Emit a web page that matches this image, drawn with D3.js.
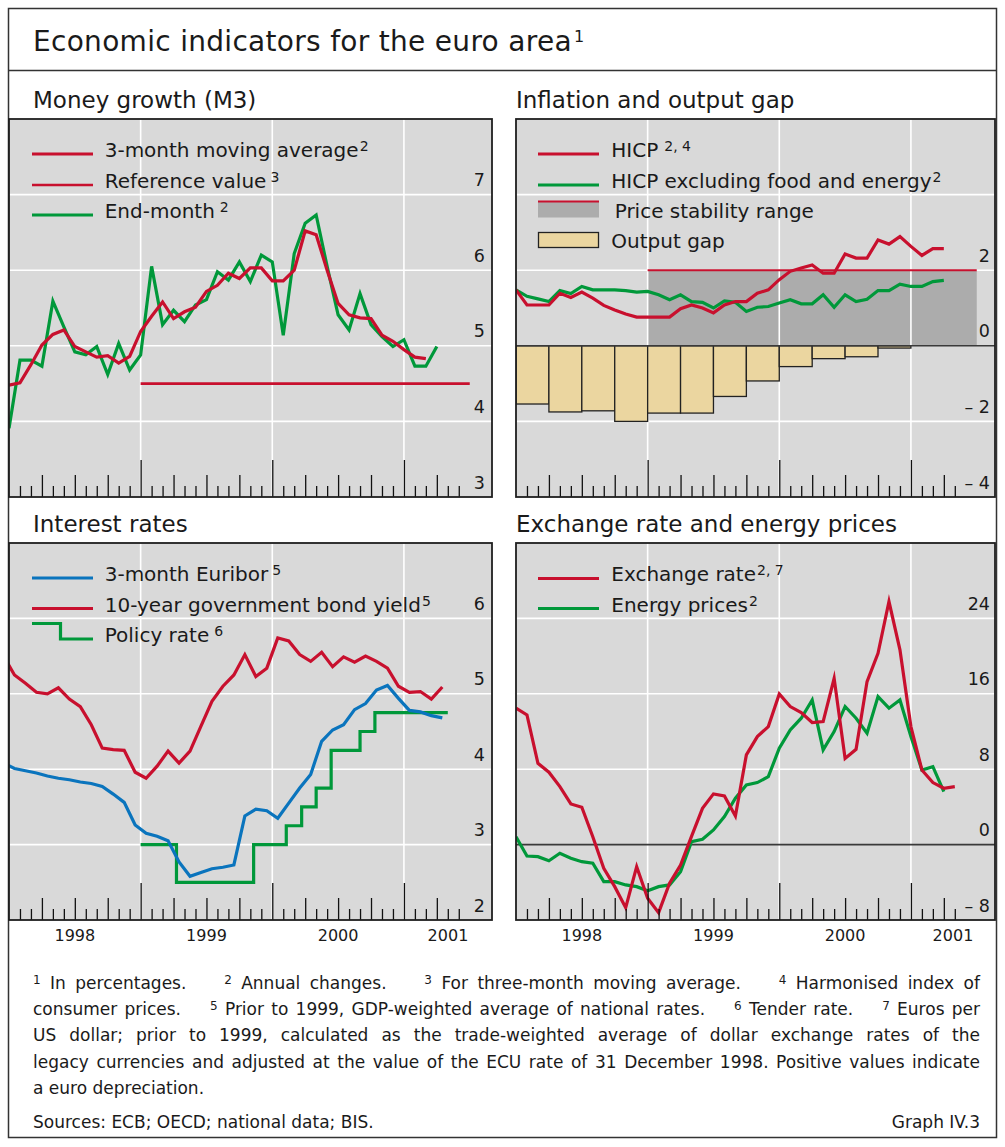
<!DOCTYPE html>
<html><head><meta charset="utf-8">
<script src="https://cdn.jsdelivr.net/npm/d3@7"></script>
<style>
html,body{margin:0;padding:0;background:#fff;}
svg text{font-family:"DejaVu Sans",sans-serif;fill:#1a1a1a;white-space:pre;}
</style></head>
<body>
<svg id="chart" width="1005" height="1147" xmlns="http://www.w3.org/2000/svg"></svg>
<script>
// ---------------- DATA (month index 0 = January 1998) ----------------
// Money growth (M3), annual changes, monthly from Jan 1998
const m3MovingAverage = [4.48,4.51,4.75,5.01,5.15,5.21,4.99,4.92,4.85,4.87,4.77,4.86,
  5.19,5.39,5.58,5.36,5.45,5.51,5.72,5.80,5.96,5.89,6.03,6.03,
  5.86,5.86,6.00,6.52,6.47,6.00,5.56,5.41,5.37,5.36,5.14,5.06,
  4.95,4.85,4.83];
const m3EndMonth = [3.91,4.81,4.81,4.73,5.59,5.25,4.92,4.88,4.99,4.62,5.03,4.68,
  4.88,6.05,5.28,5.47,5.32,5.54,5.61,5.98,5.87,6.11,5.85,6.20,
  6.11,5.14,6.22,6.62,6.73,6.05,5.41,5.21,5.69,5.28,5.12,4.99,
  5.08,4.73,4.73,4.99];
const m3ReferenceValue = 4.5;
const m3ReferencePeriod = [12, 42];

// Inflation and output gap
const hicp = [1.48,1.08,1.08,1.08,1.39,1.28,1.42,1.26,1.07,0.95,0.84,0.76,
  0.76,0.76,0.76,0.98,1.08,1.00,0.87,1.08,1.17,1.17,1.39,1.48,
  1.75,1.97,2.06,2.14,1.92,1.92,2.43,2.32,2.32,2.80,2.69,2.89,
  2.63,2.39,2.57,2.57];
const hicpCore = [1.48,1.31,1.24,1.17,1.46,1.38,1.57,1.48,1.48,1.48,1.46,1.42,
  1.44,1.35,1.22,1.35,1.17,1.15,1.00,1.19,1.15,0.91,1.02,1.04,
  1.13,1.22,1.11,1.11,1.35,1.02,1.35,1.17,1.23,1.46,1.46,1.63,
  1.57,1.57,1.70,1.73];
const priceStabilityRange = [0, 2];
const priceStabilityPeriod = [12, 42];
const outputGapQuarterly = [-1.54,-1.75,-1.72,-2.00,-1.78,-1.78,-1.34,-0.93,-0.55,-0.34,-0.29,-0.06];

// Interest rates, monthly from Dec 1997 (plotted mid-month)
const euribor3m = [4.08,4.01,3.98,3.95,3.91,3.88,3.86,3.83,3.81,3.77,3.67,3.56,3.26,
  3.15,3.11,3.05,2.77,2.58,2.63,2.68,2.70,2.73,3.38,3.47,3.45,
  3.35,3.55,3.75,3.93,4.37,4.52,4.59,4.79,4.87,5.05,5.11,4.94,
  4.78,4.76,4.71,4.68];
const bondYield10y = [5.50,5.25,5.14,5.02,5.00,5.08,4.93,4.83,4.59,4.28,4.26,4.25,3.96,
  3.88,4.04,4.24,4.08,4.24,4.57,4.90,5.10,5.25,5.52,5.23,5.34,
  5.74,5.70,5.52,5.43,5.55,5.36,5.49,5.42,5.50,5.43,5.34,5.10,
  5.02,5.03,4.93,5.09];
const policyRateDates = ["1999-01-01","1999-04-09","1999-11-10","2000-02-09","2000-03-22",
  "2000-05-01","2000-06-12","2000-09-01","2000-10-12","2001-05-01"];
const policyRateValues = [3.00,2.50,3.00,3.25,3.50,3.75,4.25,4.50,4.75,4.75];

// Exchange rate and energy prices, monthly from Jan 1998
const exchangeRate = [14.47,13.76,8.63,7.68,6.15,4.31,3.96,0.84,-2.51,-4.46,-6.69,-2.34,
  -5.70,-7.22,-4.10,-2.16,0.88,3.85,5.38,5.16,3.04,9.52,11.46,12.52,
  15.99,14.65,14.00,12.95,13.05,17.65,9.15,10.11,17.30,20.30,25.79,20.66,
  12.52,7.92,6.58,5.98,6.15];
const energyPrices = [0.84,-1.21,-1.28,-1.71,-0.92,-1.45,-1.81,-1.98,-3.93,-3.93,-4.28,-4.46,
  -4.89,-4.46,-4.28,-2.87,0.31,0.56,1.55,2.97,4.92,6.33,6.58,7.21,
  10.23,12.17,13.41,15.35,10.05,11.99,14.65,13.41,11.82,15.71,14.47,15.35,
  11.46,7.92,8.27,5.62];

const yearLabels = ["1998","1999","2000","2001"];

// ---------------- STYLE / LAYOUT ----------------
const RED = "#c8102e", GREEN = "#00983a", BLUE = "#0a74bd";
const BG = "#d9d9d9", BAND = "#acacac", GAPFILL = "#ebd6a0";
const MW = 10.97;           // pixels per month
const LW = 3.2;             // series line width
const svg = d3.select("#chart");

function monthIndex(s) {
  const [Y, M, D] = s.split("-").map(Number);
  const dim = new Date(Y, M, 0).getDate();
  return (Y - 1998) * 12 + (M - 1) + (D - 1) / dim;
}
function fmt(v) { return v < 0 ? "\u2013 " + Math.abs(v) : String(v); }

// outer frame and title
svg.append("rect").attr("x", 8.5).attr("y", 8.5).attr("width", 988).attr("height", 1129)
  .attr("fill", "none").attr("stroke", "#333").attr("stroke-width", 1.5);
svg.append("line").attr("x1", 8).attr("x2", 997).attr("y1", 70.5).attr("y2", 70.5)
  .attr("stroke", "#333").attr("stroke-width", 1.5);
const title = svg.append("text").attr("x", 33).attr("y", 51).attr("font-size", 28)
  .attr("letter-spacing", 0.3);
title.append("tspan").text("Economic indicators for the euro area");
title.append("tspan").attr("dx", 2).attr("dy", -9).attr("font-size", 16).text("1");

const panelTitles = [
  {t: "Money growth (M3)", x: 33, y: 107.5},
  {t: "Inflation and output gap", x: 516, y: 107.5},
  {t: "Interest rates", x: 33, y: 531.5},
  {t: "Exchange rate and energy prices", x: 516, y: 531.5}
];
svg.selectAll("text.ptitle").data(panelTitles).join("text").attr("class", "ptitle")
  .attr("x", d => d.x).attr("y", d => d.y).attr("font-size", 23).text(d => d.t);

let clipN = 0;
function makePanel(box, yDomain, gridVals, labelVals, lastTick, labelInset, zeroLine) {
  const x = d3.scaleLinear().domain([0, 12]).range([box.x, box.x + 12 * MW]);
  const y = d3.scaleLinear().domain(yDomain).range([box.y + box.h, box.y]);
  const g = svg.append("g");
  const cid = "clip" + (clipN++);
  g.append("clipPath").attr("id", cid).append("rect")
    .attr("x", box.x).attr("y", box.y).attr("width", box.w).attr("height", box.h);
  g.append("rect").attr("x", box.x).attr("y", box.y).attr("width", box.w).attr("height", box.h).attr("fill", BG);
  const L = {};
  ["fill", "grid", "bars", "zero", "lines", "legend", "labels", "ticks"].forEach(n => {
    L[n] = g.append("g");
  });
  ["fill", "bars", "lines"].forEach(n => L[n].attr("clip-path", `url(#${cid})`));
  // gridlines
  L.grid.selectAll("line.h").data(gridVals).join("line").attr("class", "h")
    .attr("x1", box.x).attr("x2", box.x + box.w).attr("y1", d => y(d)).attr("y2", d => y(d))
    .attr("stroke", "#fff").attr("stroke-width", 1.6);
  L.grid.selectAll("line.v").data([12, 24, 36]).join("line").attr("class", "v")
    .attr("x1", d => x(d)).attr("x2", d => x(d)).attr("y1", box.y).attr("y2", box.y + box.h)
    .attr("stroke", "#fff").attr("stroke-width", 1.6);
  if (zeroLine) {
    L.zero.append("line").attr("x1", box.x).attr("x2", box.x + box.w)
      .attr("y1", y(0)).attr("y2", y(0)).attr("stroke", "#3a3a3a").attr("stroke-width", 1.6);
  }
  // value labels
  L.labels.selectAll("text").data(labelVals).join("text")
    .attr("x", box.x + box.w - labelInset).attr("y", d => y(d) - 8.5)
    .attr("text-anchor", "end").attr("font-size", 17.5).text(fmt);
  // month / quarter / year ticks
  const all = d3.range(1, lastTick + 1);
  const levels = [
    {vals: all.filter(m => m % 3 !== 0), len: 11},
    {vals: all.filter(m => m % 3 === 0 && m % 12 !== 0), len: 22},
    {vals: all.filter(m => m % 12 === 0), len: 37}
  ];
  levels.forEach(l => {
    const ax = d3.axisBottom(x).tickValues(l.vals).tickSize(-l.len).tickFormat(() => "");
    const ag = L.ticks.append("g").attr("transform", `translate(0,${box.y + box.h})`).call(ax);
    ag.select(".domain").remove();
    ag.selectAll("text").remove();
    ag.selectAll("line").attr("stroke", "#111").attr("stroke-width", 1.3);
  });
  g.append("rect").attr("x", box.x).attr("y", box.y).attr("width", box.w).attr("height", box.h)
    .attr("fill", "none").attr("stroke", "#1e1e1e").attr("stroke-width", 1.8);
  return {x, y, L, box};
}

function drawLine(P, pts, color, w) {
  const line = d3.line().x(d => P.x(d[0])).y(d => P.y(d[1]));
  P.L.lines.append("path").attr("d", line(pts)).attr("fill", "none")
    .attr("stroke", color).attr("stroke-width", w || LW)
    .attr("stroke-linejoin", "miter").attr("stroke-miterlimit", 6);
}

function legendText(layer, x, y, label, sup, supGap) {
  const t = layer.append("text").attr("x", x).attr("y", y).attr("font-size", 20);
  t.append("tspan").text(label);
  if (sup) t.append("tspan").attr("dx", supGap || 0).attr("dy", -6).attr("font-size", 14).text(sup);
}
function legendLine(layer, x0, y, color, w) {
  layer.append("line").attr("x1", x0).attr("x2", x0 + 61).attr("y1", y).attr("y2", y)
    .attr("stroke", color).attr("stroke-width", w);
}

// ---------------- PANEL 1: Money growth ----------------
const P1 = makePanel({x: 9, y: 119, w: 483, h: 378}, [3, 8], [4, 5, 6, 7], [3, 4, 5, 6, 7], 41, 7, false);
drawLine(P1, m3ReferencePeriod.map(m => [m, m3ReferenceValue]), RED, 2.6);
drawLine(P1, m3EndMonth.map((v, i) => [i, v]), GREEN);
drawLine(P1, m3MovingAverage.map((v, i) => [i, v]), RED);
legendLine(P1.L.legend, 32, 154, RED, LW);
legendLine(P1.L.legend, 32, 185, RED, 2.6);
legendLine(P1.L.legend, 32, 215, GREEN, LW);
legendText(P1.L.legend, 104.7, 157, "3-month moving average", "2", 1);
legendText(P1.L.legend, 104.7, 188, "Reference value", "3", 4);
legendText(P1.L.legend, 104.7, 218, "End-month", "2", 5);

// ---------------- PANEL 2: Inflation and output gap ----------------
const P2 = makePanel({x: 516, y: 119, w: 479, h: 378}, [-4, 6], [-2, 2, 4], [-4, -2, 0, 2], 40, 5, true);
P2.L.fill.append("rect")
  .attr("x", P2.x(priceStabilityPeriod[0])).attr("width", P2.x(priceStabilityPeriod[1]) - P2.x(priceStabilityPeriod[0]))
  .attr("y", P2.y(priceStabilityRange[1])).attr("height", P2.y(priceStabilityRange[0]) - P2.y(priceStabilityRange[1]))
  .attr("fill", BAND);
P2.L.bars.selectAll("rect").data(outputGapQuarterly).join("rect")
  .attr("x", (d, i) => P2.x(i * 3)).attr("width", (d, i) => P2.x(i * 3 + 3) - P2.x(i * 3))
  .attr("y", d => P2.y(Math.max(0, d))).attr("height", d => Math.abs(P2.y(d) - P2.y(0)))
  .attr("fill", GAPFILL).attr("stroke", "#222").attr("stroke-width", 1.3);
drawLine(P2, priceStabilityPeriod.map(m => [m, priceStabilityRange[1]]), RED, 2);
drawLine(P2, hicpCore.map((v, i) => [i, v]), GREEN);
drawLine(P2, hicp.map((v, i) => [i, v]), RED);
legendLine(P2.L.legend, 538, 154, RED, LW);
legendLine(P2.L.legend, 538, 185, GREEN, LW);
P2.L.legend.append("rect").attr("x", 538).attr("y", 202).attr("width", 61).attr("height", 15.5).attr("fill", BAND);
legendLine(P2.L.legend, 538, 201.5, RED, 2);
P2.L.legend.append("rect").attr("x", 538.5).attr("y", 232.5).attr("width", 60).attr("height", 15)
  .attr("fill", GAPFILL).attr("stroke", "#222").attr("stroke-width", 1.3);
legendText(P2.L.legend, 611.3, 157, "HICP", "2, 4", 6);
legendText(P2.L.legend, 611.3, 188, "HICP excluding food and energy", "2", 1);
legendText(P2.L.legend, 614.7, 218, "Price stability range", null);
legendText(P2.L.legend, 611.3, 248, "Output gap", null);

// ---------------- PANEL 3: Interest rates ----------------
const P3 = makePanel({x: 9, y: 543, w: 483, h: 377}, [2, 7], [3, 4, 5, 6], [2, 3, 4, 5, 6], 41, 7, false);
const policyPts = policyRateDates.map((d, i) => [monthIndex(d), policyRateValues[i]]);
P3.L.lines.append("path")
  .attr("d", d3.line().curve(d3.curveStepAfter).x(d => P3.x(d[0])).y(d => P3.y(d[1]))(policyPts))
  .attr("fill", "none").attr("stroke", GREEN).attr("stroke-width", LW);
drawLine(P3, bondYield10y.map((v, i) => [i - 0.5, v]), RED);
drawLine(P3, euribor3m.map((v, i) => [i - 0.5, v]), BLUE);
legendLine(P3.L.legend, 32, 578, BLUE, LW);
legendLine(P3.L.legend, 32, 608.5, RED, LW);
P3.L.legend.append("path").attr("d", "M32,623.5H60.5V639H93").attr("fill", "none")
  .attr("stroke", GREEN).attr("stroke-width", LW);
legendText(P3.L.legend, 104.7, 581, "3-month Euribor", "5", 4);
legendText(P3.L.legend, 104.7, 611.5, "10-year government bond yield", "5", 1);
legendText(P3.L.legend, 104.7, 642, "Policy rate", "6", 5);

// ---------------- PANEL 4: Exchange rate and energy prices ----------------
const P4 = makePanel({x: 516, y: 543, w: 479, h: 377}, [-8, 32], [8, 16, 24], [-8, 0, 8, 16, 24], 40, 5, true);
drawLine(P4, energyPrices.map((v, i) => [i, v]), GREEN);
drawLine(P4, exchangeRate.map((v, i) => [i, v]), RED);
legendLine(P4.L.legend, 538, 578.5, RED, LW);
legendLine(P4.L.legend, 538, 608.5, GREEN, LW);
legendText(P4.L.legend, 611.3, 581, "Exchange rate", "2, 7", 1);
legendText(P4.L.legend, 611.3, 611.5, "Energy prices", "2", 1);

// year labels under the bottom panels
[P3, P4].forEach(P => {
  const maxM = P.box.w / MW;
  svg.append("g").selectAll("text").data(yearLabels).join("text")
    .attr("x", (d, i) => P.x((i * 12 + Math.min(i * 12 + 12, maxM)) / 2))
    .attr("y", 941).attr("text-anchor", "middle").attr("font-size", 16).text(d => d);
});

// ---------------- FOOTNOTES ----------------
const footnoteLines = [
  [["1", 1], [" In percentages.    ", 0], ["2", 1], [" Annual changes.    ", 0], ["3", 1],
   [" For three-month moving average.    ", 0], ["4", 1], [" Harmonised index of", 0]],
  [["consumer prices.    ", 0], ["5", 1], [" Prior to 1999, GDP-weighted average of national rates.    ", 0],
   ["6", 1], [" Tender rate.    ", 0], ["7", 1], [" Euros per", 0]],
  [["US dollar; prior to 1999, calculated as the trade-weighted average of dollar exchange rates of the", 0]],
  [["legacy currencies and adjusted at the value of the ECU rate of 31 December 1998. Positive values indicate", 0]],
  [["a euro depreciation.", 0]]
];
const footnoteJustify = [true, true, true, true, false];
const FN_X0 = 33, FN_X1 = 980, FN_SIZE = 17;
footnoteLines.forEach((segs, li) => {
  const t = svg.append("text").attr("x", FN_X0).attr("y", 989 + li * 26.2).attr("font-size", FN_SIZE)
    .attr("xml:space", "preserve");
  let raised = false;
  segs.forEach(([s, sup]) => {
    const ts = t.append("tspan").text(s);
    if (sup) { ts.attr("font-size", 12).attr("dy", raised ? 0 : -5.5); raised = true; }
    else if (raised) { ts.attr("dy", 5.5); raised = false; }
  });
  if (footnoteJustify[li]) {
    const natural = t.node().getComputedTextLength();
    const spaces = segs.map(s => s[0]).join("").split(" ").length - 1;
    t.attr("word-spacing", (FN_X1 - FN_X0 - natural) / spaces);
  }
});
svg.append("text").attr("x", 33).attr("y", 1128).attr("font-size", FN_SIZE)
  .text("Sources: ECB; OECD; national data; BIS.");
svg.append("text").attr("x", 980).attr("y", 1128).attr("font-size", FN_SIZE).attr("text-anchor", "end")
  .text("Graph IV.3");
</script>
</body></html>
